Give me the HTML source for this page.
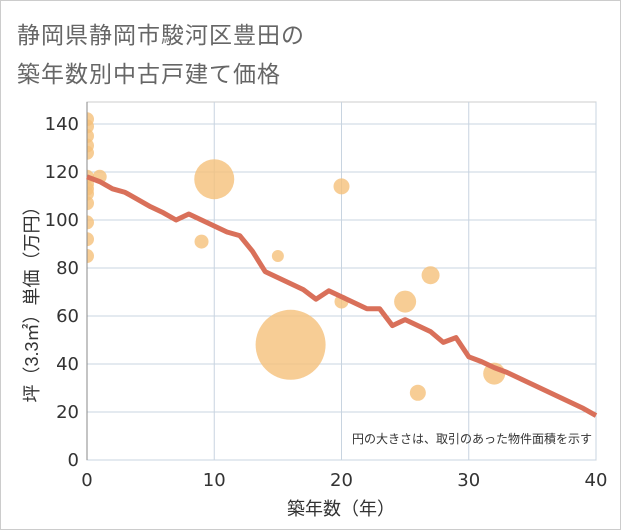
<!DOCTYPE html>
<html><head><meta charset="utf-8"><style>
body{margin:0;background:#fff;font-family:"Liberation Sans","Noto Sans CJK JP",sans-serif}
#wrap{position:relative;width:619px;height:528px;border:1px solid #ccc;background:#fff}
.t{position:absolute;left:16px;font-size:23px;color:#666;letter-spacing:1px}
</style></head><body>
<div id="wrap">
<div class="t" style="top:15px">静岡県静岡市駿河区豊田の</div>
<div class="t" style="top:54px">築年数別中古戸建て価格</div>
<svg id="c" width="621" height="530" style="position:absolute;left:-1px;top:-1px"><defs><clipPath id="pc"><rect x="87" y="102" width="509" height="358"/></clipPath></defs></svg>
</div>
<script>
const xTicks=[0,10,20,30,40];
const yTicks=[0,20,40,60,80,100,120,140];
const bubX=[0,0,0,0,0,0,0,0,0,0,0,0,0,1,10,9,15,20,16,20,25,27,26,32];
const bubY=[142,139,135,131,128,118,115,113,111,107,99,92,85,118,117,91,85,114,48,66,66,77,28,36];
const bubR=[7,7,7,7,7,7,7,7,7,7,7,7,7,7,20,7,6,8,35,7,11,9,8,11];
const lineX=[0,1,2,3,4,5,6,7,8,9,10,11,12,13,14,15,16,17,18,19,20,21,22,23,24,25,26,27,28,29,30,31,32,33,34,35,36,37,38,39,40];
const lineY=[118,116,113,111.5,108.5,105.5,103,100,102.5,100,97.5,95,93.5,87,78.5,76,73.5,71,67,70.5,68,65.5,63,63,56,58.5,56,53.5,49,51,43,41,38.5,36.5,34,31.5,29,26.5,24,21.5,18.5];
const L=87,R=596,T=102,B=460;
const sx=v=>L+(R-L)*v/40, sy=v=>B-v*2.4;
const svg=document.getElementById('c');const NS='http://www.w3.org/2000/svg';
const F='"DejaVu Sans","Liberation Sans",sans-serif';
function mk(t,a,p){const e=document.createElementNS(NS,t);for(const k in a)e.setAttribute(k,a[k]);(p||svg).appendChild(e);return e;}
let r=mk('rect',{x:L,y:T,width:R-L,height:B-T,fill:'#fff',stroke:'#ccc'});


xTicks.forEach(v=>{let g=mk('line',{x1:sx(v),x2:sx(v),y1:T,y2:B,stroke:'#c8d4e0'});


let t=mk('text',{x:sx(v),y:B+26,'text-anchor':'middle','font-size':18,fill:'#333','font-family':F});t.textContent=v;

});
yTicks.forEach(v=>{let g=mk('line',{x1:L,x2:R,y1:sy(v),y2:sy(v),stroke:'#c8d4e0'});


let t=mk('text',{x:L-8,y:sy(v)+6,'text-anchor':'end','font-size':18,fill:'#333','font-family':F});t.textContent=v;

});
const gb=mk('g',{'clip-path':'url(#pc)'});


bubX.forEach((v,i)=>{let c=mk('circle',{cx:sx(v),cy:sy(bubY[i]),r:bubR[i],fill:'#f5c07a','fill-opacity':0.8},gb);

});
let ax=mk('line',{x1:L,x2:L,y1:T,y2:B,stroke:'#888'});


let p=mk('polyline',{points:lineX.map((v,i)=>sx(v)+','+sy(lineY[i])).join(' '),fill:'none',stroke:'#d9705a','stroke-width':5,'stroke-linejoin':'round'});


let n=mk('text',{x:592,y:443,'text-anchor':'end','font-size':12,fill:'#333'});n.textContent='円の大きさは、取引のあった物件面積を示す';


let xt=mk('text',{x:341,y:515,'text-anchor':'middle','font-size':18,fill:'#333'});xt.textContent='築年数（年）';


let yt=mk('text',{x:0,y:0,'text-anchor':'middle','font-size':18,fill:'#333',transform:'translate(38,300) rotate(-90)'});yt.textContent='坪（3.3㎡）単価（万円）';


</script>
</body></html>
